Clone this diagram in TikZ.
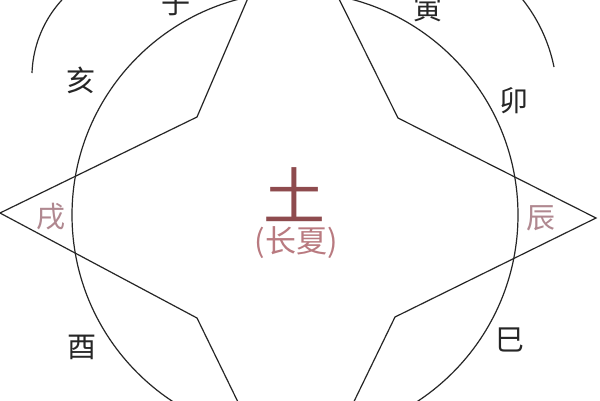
\documentclass[tikz,border=0pt]{standalone}
\usepackage{fontspec}
\newfontfamily\cjk{Noto Sans CJK SC}
\definecolor{ink}{HTML}{262626}
\definecolor{earth}{HTML}{8E4B4E}
\definecolor{summer}{HTML}{B97A80}
\definecolor{tipcol}{HTML}{B08890}

\begin{document}
\begin{tikzpicture}[x=1pt, y=-1pt, line width=1.2pt,
    branch/.style={inner sep=0pt, text=black!85, font=\cjk\fontsize{29}{29}\selectfont},
    tiplabel/.style={branch, text=tipcol}]
    \useasboundingbox (0,0) rectangle (600,400);
    \fill[white] (0,0) rectangle (600,400);
    \draw[ink] (295,215) circle [radius=223];
    % four-pointed star
    \coordinate (west) at (0,213);
    \coordinate (nw) at (197,117);
    \coordinate (north) at (290,-100);
    \coordinate (ne) at (398,118);
    \coordinate (east) at (596,218);
    \coordinate (se) at (395,317);
    \coordinate (south) at (296,521);
    \coordinate (sw) at (197,318);
    \draw[ink] (west) -- (nw) -- (north) -- (ne) -- (east) -- (se) -- (south) -- (sw) -- cycle;
    % outer brackets
    \draw[ink] (32,73) arc [start angle=182, end angle=240, radius=114];
    \draw[ink] (554,67) arc [start angle=-11.5, end angle=-48, radius=160];
    \node[branch] (zi) at (176,3) {子};
    \node[branch] (yin) at (428,8) {寅};
    \node[branch] (hai) at (81,80) {亥};
    \node[branch] (mao) at (514,101) {卯};
    \node[tiplabel] (xu) at (51,217) {戌};
    \node[tiplabel] (chen) at (541,218) {辰};
    \node[branch] (you) at (82,347) {酉};
    \node[branch] (si) at (510,340) {巳};
    \node[inner sep=0pt, text=earth, font=\cjk\fontsize{62}{62}\selectfont] (tu) at (294,195) {土};
    \node[inner sep=0pt, text=summer, font=\cjk\fontsize{31}{31}\selectfont] (changxia) at (296,243) {(长夏)};
\end{tikzpicture}
\end{document}
